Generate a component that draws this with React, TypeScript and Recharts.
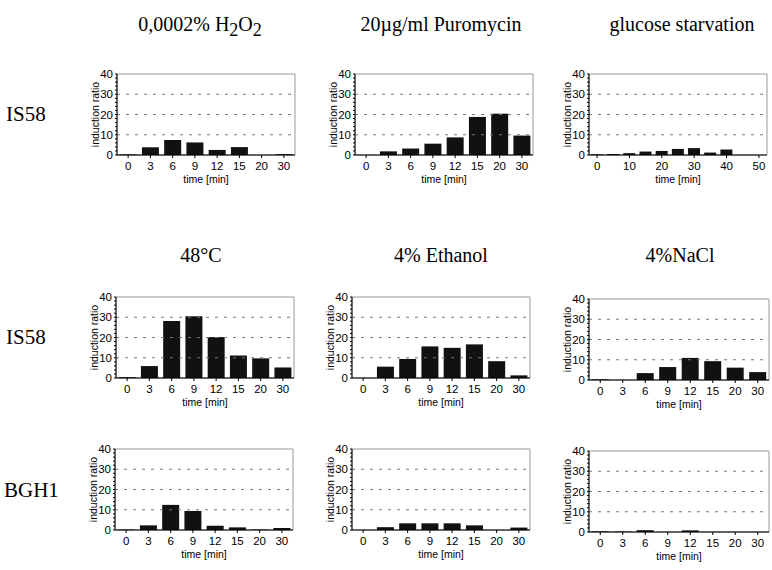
import { BarChart, Bar, XAxis, YAxis, ReferenceLine, ReferenceArea, Label } from 'recharts'

// time points (min)
const timeLabels = ['0', '3', '6', '9', '12', '15', '20', '30']
const glucoseLabels = ['0', '5', '10', '15', '20', '25', '30', '35', '40', '45', '50']

// induction ratios, strain IS58
const h2o2IS58 = [0.3, 3.8, 7.4, 6.2, 2.5, 3.9, 0, 0.4]
const puromycinIS58 = [0, 1.8, 3.2, 5.6, 8.7, 18.8, 20.4, 9.6]
const glucoseIS58 = [0.3, 0.5, 0.9, 1.7, 2.0, 3.0, 3.4, 1.2, 2.7, 0, 0]
const heatIS58 = [0.4, 5.9, 28.2, 30.5, 20.2, 11.1, 9.7, 5.2]
const ethanolIS58 = [0, 5.6, 9.4, 15.6, 14.9, 16.6, 8.3, 1.3]
const naclIS58 = [0.3, 0, 3.4, 6.4, 10.9, 9.3, 6.1, 3.9]

// induction ratios, strain BGH1
const heatBGH1 = [0.2, 2.3, 12.4, 9.4, 2.1, 1.3, 0.2, 1.0]
const ethanolBGH1 = [0, 1.4, 3.3, 3.3, 3.3, 2.3, 0, 1.2]
const naclBGH1 = [0.3, 0.2, 0.9, 0, 0.8, 0, 0, 0]

const yTicks = [0, 2, 4, 6, 8, 10, 12, 14, 16, 18, 20, 22, 24, 26, 28, 30, 32, 34, 36, 38, 40]
const gridLines = [10, 20, 30]

const sans = 'Liberation Sans, Arial, sans-serif'
const serif = 'Liberation Serif, Times New Roman, serif'

const PLOT_H = 81
const X_H = 36

function YTick(props: any) {
  const { x, y, payload } = props
  if (payload.value % 10 !== 0) return null
  return (
    <text x={x} y={y} dy={4} textAnchor="end" fontSize={11.5} fill="#000" fontFamily={sans}>
      {payload.value}
    </text>
  )
}

function Panel({ left, top, width, labels, values, sparse }: {
  left: number; top: number; width: number; labels: string[]; values: number[]; sparse?: boolean
}) {
  const data = labels.map((t, i) => ({ time: t, ratio: values[i] }))
  return (
    <div style={{ position: 'absolute', left: left - 40, top: top - 5 }}>
      <BarChart
        width={40 + width + 5}
        height={5 + PLOT_H + X_H}
        data={data}
        margin={{ top: 5, right: 5, bottom: 0, left: 0 }}
        barCategoryGap="12%"
      >
        <ReferenceArea y1={0} y2={40} fill="none" stroke="#999" strokeWidth={1} />
        {gridLines.map((v) => (
          <ReferenceLine key={v} y={v} stroke="#777" strokeDasharray="3 6" />
        ))}
        <XAxis
          dataKey="time"
          interval={sparse ? 1 : 0}
          height={X_H}
          tickSize={3}
          tickMargin={4}
          stroke="#000"
          tick={{ fontSize: 11.5, fill: '#000', fontFamily: sans }}
        >
          <Label value="time [min]" position="insideBottom" offset={8} fontSize={10.5} fill="#000" fontFamily={sans} />
        </XAxis>
        <YAxis
          domain={[0, 40]}
          ticks={yTicks}
          interval={0}
          width={40}
          tickSize={2}
          tickMargin={2}
          stroke="#000"
          tick={<YTick />}
        >
          <Label
            value="induction ratio"
            angle={-90}
            position="insideLeft"
            offset={18}
            fontSize={10.5}
            fill="#000"
            fontFamily={sans}
            style={{ textAnchor: 'middle' }}
          />
        </YAxis>
        <Bar dataKey="ratio" fill="#111" isAnimationActive={false} />
      </BarChart>
    </div>
  )
}

function Title({ x, y, children }: { x: number; y: number; children: any }) {
  return (
    <div
      style={{
        position: 'absolute', left: x, top: y - 11, transform: 'translateX(-50%)',
        fontFamily: serif, fontSize: 20, lineHeight: '22px', whiteSpace: 'nowrap', color: '#000',
      }}
    >
      {children}
    </div>
  )
}

function RowLabel({ x, y, text }: { x: number; y: number; text: string }) {
  return (
    <div style={{ position: 'absolute', left: x, top: y - 12, fontFamily: serif, fontSize: 21, lineHeight: '24px', color: '#000' }}>
      {text}
    </div>
  )
}

const sub = { fontSize: '0.9em', verticalAlign: '-0.25em' }

export default function App() {
  return (
    <div style={{ position: 'absolute', left: 0, top: 0, width: 772, height: 570, background: '#fff', overflow: 'hidden' }}>
      <Title x={200} y={24}>0,0002% H<span style={sub}>2</span>O<span style={sub}>2</span></Title>
      <Title x={441} y={24}>20µg/ml Puromycin</Title>
      <Title x={682} y={24}>glucose starvation</Title>
      <Title x={201} y={255}>48°C</Title>
      <Title x={441} y={255}>4% Ethanol</Title>
      <Title x={680} y={255}>4%NaCl</Title>

      <RowLabel x={6} y={114} text="IS58" />
      <RowLabel x={6} y={337} text="IS58" />
      <RowLabel x={4} y={490} text="BGH1" />

      <Panel left={117} top={74} width={178} labels={timeLabels} values={h2o2IS58} />
      <Panel left={355} top={74} width={178} labels={timeLabels} values={puromycinIS58} />
      <Panel left={589} top={74} width={178} labels={glucoseLabels} values={glucoseIS58} sparse />

      <Panel left={116} top={297} width={178} labels={timeLabels} values={heatIS58} />
      <Panel left={352} top={297} width={178} labels={timeLabels} values={ethanolIS58} />
      <Panel left={589} top={299} width={180} labels={timeLabels} values={naclIS58} />

      <Panel left={115} top={449} width={178} labels={timeLabels} values={heatBGH1} />
      <Panel left={352} top={449} width={178} labels={timeLabels} values={ethanolBGH1} />
      <Panel left={589} top={451} width={180} labels={timeLabels} values={naclBGH1} />
    </div>
  )
}
